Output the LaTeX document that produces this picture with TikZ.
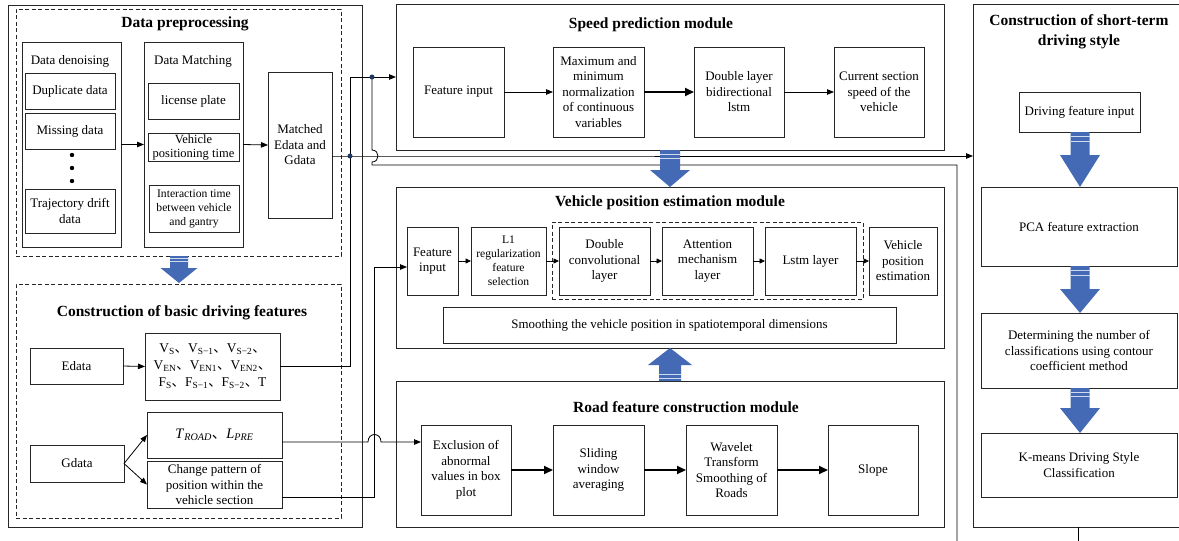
\documentclass[tikz,border=0pt]{standalone}
\usepackage{fontspec}
\setmainfont{Liberation Serif}
\newfontfamily\cjk{Noto Sans CJK SC}
\usetikzlibrary{arrows.meta}
\definecolor{blk}{RGB}{68,106,182}
\definecolor{dotc}{RGB}{31,56,100}
\newcommand\dun{{\cjk 、}}
\newcommand\bx[7][]{\node[box,#1,minimum width={(#5-#3)*1pt},minimum height={(#6-#4)*1pt}] (#2) at ({(#3+#5)/2},{(#4+#6)/2}) {#7};}
\newcommand\bluearrow[6]{%
 \fill[blk] ({#1-#5},#2) -- ({#1-#5},#3) -- ({#1-#6},#3) -- (#1,#4) -- ({#1+#6},#3) -- ({#1+#5},#3) -- ({#1+#5},#2) -- cycle;
 \draw[stripe] ({#1-#5},{#2+0.2*(#3-#2)}) -- ({#1+#5},{#2+0.2*(#3-#2)});
 \draw[stripe] ({#1-#5},{#2+0.4*(#3-#2)}) -- ({#1+#5},{#2+0.4*(#3-#2)});}
\tikzset{
 box/.style={draw=black!85,line width=0.8pt,align=center,inner sep=1pt,outer sep=0pt,font=\fontsize{13}{15.5}\selectfont},
 sm/.style={font=\fontsize{11.6}{14}\selectfont},
 ttl/.style={font=\fontsize{15.5}{19.5}\selectfont\bfseries,inner sep=0pt,align=center},
 lbl/.style={inner sep=0pt,font=\fontsize{13}{15.5}\selectfont},
 dsh/.style={dash pattern=on 4pt off 2.5pt},
 ln/.style={draw=black,line width=0.8pt},
 arr/.style={ln,-{Triangle[length=7pt,width=5.5pt]}},
 sarr/.style={ln,-{Triangle[length=5.5pt,width=5pt]}},
 thk/.style={draw=black,line width=2pt,-{Triangle[length=9pt,width=8pt]}},
 stripe/.style={draw=white!75!blk,line width=0.6pt},
}
\begin{document}
\begin{tikzpicture}[x=1pt,y=-1pt]
\useasboundingbox (0,0) rectangle (1179,541);
% ---------- left panel
\bx{leftP}{8}{5}{362}{527}{}
\bx[dsh]{pre}{16}{9}{341}{256}{}
\node[ttl] (tPre) at (185,24) {Data preprocessing};
\bx{den}{22}{42}{121}{247}{}
\node[lbl] (tDen) at (70,61) {Data denoising};
\bx{dup}{25}{73}{115}{109}{Duplicate data}
\bx{mis}{25}{113}{115}{149}{Missing data}
\fill (72,155) circle (2.2pt);
\fill (72,168) circle (2.2pt);
\fill (72,181) circle (2.2pt);
\bx{trj}{25}{189}{115}{233}{Trajectory drift\\data}
\bx{mat}{144}{42}{243}{247}{}
\node[lbl] (tMat) at (193,61) {Data Matching};
\bx{lic}{148}{83}{239}{119}{license plate}
\bx[font=\fontsize{12.5}{14}\selectfont]{vpt}{148}{134}{239}{161}{Vehicle\\positioning time}
\bx[sm]{itm}{149}{185}{239}{232}{Interaction time\\between vehicle\\and gantry}
\bx{mtd}{268}{72}{332}{218}{Matched\\Edata and\\Gdata}
\bx[dsh]{bdf}{16}{284}{341}{518}{}
\node[ttl] (tBdf) at (182,313) {Construction of basic driving features};
\bx{edt}{30}{348}{123}{384}{Edata}
\bx[font=\fontsize{13.4}{17}\selectfont]{fts}{145}{333}{280}{400}{V\textsubscript{S}\dun V\textsubscript{S−1}\dun V\textsubscript{S−2}\dun\\V\textsubscript{EN}\dun V\textsubscript{EN1}\dun V\textsubscript{EN2}\dun\\F\textsubscript{S}\dun F\textsubscript{S−1}\dun F\textsubscript{S−2}\dun T}
\bx{gdt}{30}{445}{124}{482}{Gdata}
\bx[font=\fontsize{14.5}{17}\selectfont]{trd}{147}{412}{282}{458}{\textit{T}\textsubscript{\textit{ROAD}}\dun\textit{L}\textsubscript{\textit{PRE}}}
\bx{chg}{147}{461}{282}{508}{Change pattern of\\position within the\\vehicle section}
% ---------- speed module
\bx{spd}{396}{4}{944}{150}{}
\node[ttl] (tSpd) at (651,25) {Speed prediction module};
\bx{fi1}{413}{47}{504}{137}{Feature input}
\bx{mx}{553}{47}{644}{137}{Maximum and\\minimum\\normalization\\of continuous\\variables}
\bx{dbl}{694}{47}{784}{137}{Double layer\\bidirectional\\lstm}
\bx{cur}{834}{47}{924}{137}{Current section\\speed of the\\vehicle}
% ---------- position module
\bx{pos}{396}{187}{944}{348}{}
\node[ttl] (tPos) at (670,203) {Vehicle position estimation module};
\bx[dsh]{cnn}{552}{222}{863}{299}{}
\bx{fi2}{407}{227}{458}{295}{Feature\\input}
\bx[sm]{lone}{471}{227}{546}{295}{L1\\regularization\\feature\\selection}
\bx{cv}{559}{227}{650}{295}{Double\\convolutional\\layer}
\bx{att}{662}{227}{753}{295}{Attention\\mechanism\\layer}
\bx{lst}{765}{227}{856}{295}{Lstm layer}
\bx{vpe}{869}{227}{937}{295}{Vehicle\\position\\estimation}
\bx[font=\fontsize{12.9}{15}\selectfont]{smo}{443}{307}{896}{343}{Smoothing the vehicle position in spatiotemporal dimensions}
% ---------- road module
\bx{road}{396}{381}{944}{527}{}
\node[ttl] (tRoad) at (686,407) {Road feature construction module};
\bx{exc}{421}{425}{511}{515}{Exclusion of\\abnormal\\values in box\\plot}
\bx{sld}{553}{425}{644}{515}{Sliding\\window\\averaging}
\bx{wav}{686}{425}{777}{515}{Wavelet\\Transform\\Smoothing of\\Roads}
\bx{slp}{828}{425}{918}{515}{Slope}
% ---------- right panel
\bx{sty}{973}{4}{1195}{527}{}
\node[ttl] (tSty) at (1079,32) {Construction of short-term\\driving style};
\bx{dfi}{1019}{92}{1140}{132}{Driving feature input}
\bx{pca}{981}{187}{1177}{266}{PCA feature extraction}
\bx{det}{981}{313}{1177}{388}{Determining the number of\\classifications using contour\\coefficient method}
\bx{km}{981}{433}{1177}{497}{K-means Driving Style\\Classification}
% ---------- connectors
\draw[arr] (den.east) -- (mat.west);
\draw[arr] (mat.east) -- (mtd.west);
\draw[arr] (edt.east) -- (fts.west);
\draw[arr] (gdt.east) -- (trd.west);
\draw[arr] (gdt.east) -- (chg.west);
\coordinate (jA) at (350,77);
\coordinate (jB) at (350,156);
\coordinate (jC) at (372,77);
\coordinate (jD) at (372,165);
\coordinate (jE) at (957,165);
\coordinate (endA) at (957,545);
\draw[arr] (fts.east) -| (jA) -- (jA -| spd.west);
\draw[arr] (mtd.east |- jB) -- (jB) -- (jB -| sty.west);
\draw[ln] (jC) -- (372,150) .. controls (380,150) and (380,162) .. (372,162) -- (jD) -- (jE) -- (endA);
\fill[dotc] (jB) circle (2.5pt);
\fill[dotc] (jC) circle (2.5pt);
\coordinate (cB) at (374,497);
\coordinate (cT) at (374,267);
\draw[arr] (chg.east |- cB) -- (cB) -- (cT) -- (cT -| fi2.west);
\coordinate (rA) at (368,442);
\coordinate (rB) at (381,442);
\draw[arr] (trd.east |- rA) -- (rA) .. controls (368,432) and (381,432) .. (rB) -- (rB -| exc.west);
\draw[arr] (fi1) -- (mx);
\draw[thk] (mx) -- (dbl);
\draw[arr] (dbl) -- (cur);
\draw[sarr] (fi2) -- (lone);
\draw[sarr] (lone) -- (cv);
\draw[sarr] (cv) -- (att);
\draw[sarr] (att) -- (lst);
\draw[sarr] (lst) -- (vpe);
\draw[thk] (exc) -- (sld);
\draw[thk] (sld) -- (wav);
\draw[thk] (wav) -- (slp);
\coordinate (sb) at (1078,527);
\coordinate (se) at (1078,545);
\draw[ln] (sb) -- (se);
% ---------- block arrows
\bluearrow{179}{256}{268}{283}{9}{18.5}
\bluearrow{670}{150}{170}{187}{10}{20}
\bluearrow{670}{381}{365}{348}{11}{22}
\bluearrow{1080}{132}{155}{187}{9.5}{20}
\bluearrow{1080}{266}{289}{313}{9.5}{20}
\bluearrow{1080}{388}{408}{433}{9.5}{20}
\end{tikzpicture}
\end{document}
